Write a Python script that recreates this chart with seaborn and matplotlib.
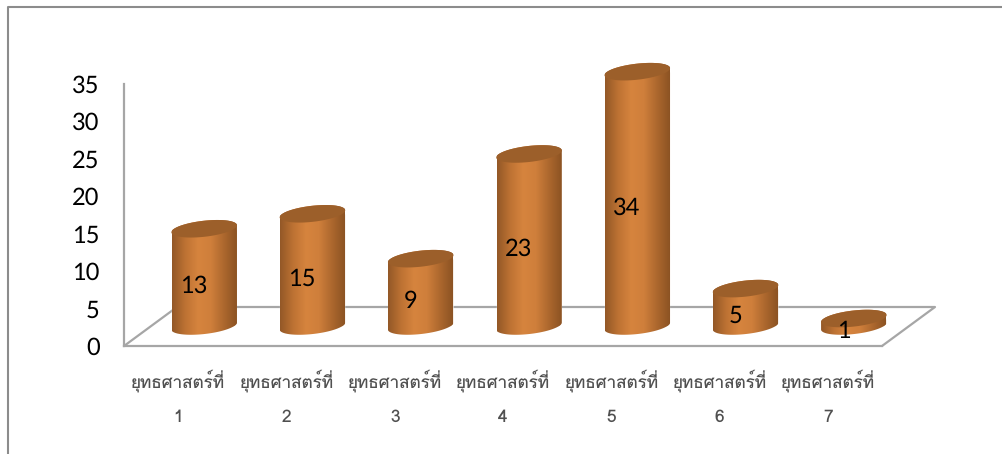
import numpy as np
import matplotlib
matplotlib.use("Agg")
import matplotlib.pyplot as plt
import seaborn as sns
from matplotlib.colors import LinearSegmentedColormap
from matplotlib.patches import Polygon
from matplotlib.transforms import IdentityTransform

categories = ["ยุทธศาสตร์ที่\n\n1", "ยุทธศาสตร์ที่\n\n2", "ยุทธศาสตร์ที่\n\n3", "ยุทธศาสตร์ที่\n\n4",
              "ยุทธศาสตร์ที่\n\n5", "ยุทธศาสตร์ที่\n\n6", "ยุทธศาสตร์ที่\n\n7"]
values = [13, 15, 9, 23, 34, 5, 1]
y_ticks = [0, 5, 10, 15, 20, 25, 30, 35]

W, H = 1003, 454
GREY = "#a6a6a6"
BASE_Y = 326
PX_PER_UNIT = 7.48
BAR_PAD = 4  # value units of spare room around the bars, for the ellipses


def px_axes(fig, left, right, top, bottom):
    # axes placed by pixel edges of the picture (y counted from the top)
    return fig.add_axes([left / W, 1 - bottom / H, (right - left) / W, (bottom - top) / H])


def ellipse_points(cx, cy, start, stop, a=33, b=8, tilt=6.5):
    t = np.radians(np.linspace(start, stop, 60))
    r = np.radians(tilt)
    x = a * np.cos(t) * np.cos(r) - b * np.sin(t) * np.sin(r)
    y = a * np.cos(t) * np.sin(r) + b * np.sin(t) * np.cos(r)
    return np.column_stack([cx + x, cy + y])


sns.set_theme(style="white")
plt.rcParams["font.family"] = ["Lato", "DejaVu Sans"]
plt.rcParams["text.hinting"] = "no_hinting"

fig = plt.figure(figsize=(W / 100, H / 100), dpi=100)

# page frame and floor, in picture pixels
bg = fig.add_axes([0, 0, 1, 1])
bg.set_xlim(0, W)
bg.set_ylim(H, 0)
bg.axis("off")
bg.plot([8, 8, W], [H, 7, 7], color="#8c8c8c", lw=1.5)
bg.plot([124, 177, 935, 882], [346, 307, 307, 346], color=GREY, lw=1.6)

# front plane: carries the value axis and the category labels
ax = px_axes(fig, 124, 882, 84, 346)
ax.patch.set_alpha(0)
ax.set_xlim(-0.5, 6.5)
ax.set_ylim(0, 35)
ax.set_yticks(y_ticks)
ax.set_xticks(range(len(categories)))
ax.set_xticklabels(categories, fontsize=12.3, color="#505050", linespacing=1.08,
                   family=["Loma", "Krub", "DejaVu Sans"])
ax.tick_params(axis="y", length=0, pad=17.5, labelsize=17, labelcolor="black")
ax.tick_params(axis="x", length=0, pad=16.5)
sns.despine(ax=ax, top=True, right=True)
for side in ("left", "bottom"):
    ax.spines[side].set_color(GREY)
    ax.spines[side].set_linewidth(1.6)

# bars stand further back, so their axes is shifted along the floor
bar_ax = px_axes(fig, 150, 908, BASE_Y - (35 + BAR_PAD) * PX_PER_UNIT, BASE_Y + BAR_PAD * PX_PER_UNIT)
bar_ax.patch.set_alpha(0)
sns.barplot(x=list(range(len(values))), y=values, color="#c97a38", width=0.6, ax=bar_ax, zorder=2)
bar_ax.set_xlim(-0.5, 6.5)
bar_ax.set_ylim(-BAR_PAD, 35 + BAR_PAD)
bar_ax.axis("off")
fig.canvas.draw()

gradient = LinearSegmentedColormap.from_list(
    "cyl", ["#935827", "#bd7233", "#d6843e", "#cf7f3b", "#ad682e", "#8c5323"]
)
shade = np.linspace(0, 1, 128).reshape(1, -1)

for bar, val in zip(bar_ax.patches, values):
    x0, y0 = bar_ax.transData.transform((bar.get_x(), 0))
    x1, y1 = bar_ax.transData.transform((bar.get_x() + bar.get_width(), val))
    cx = (x0 + x1) / 2
    # y grows upwards in display space, so 180..360 is the lower edge
    body = np.vstack([ellipse_points(cx, y0, 180, 360), ellipse_points(cx, y1, 0, 180)])
    clip = Polygon(body, transform=IdentityTransform())
    bar.set_clip_path(clip)
    img = bar_ax.imshow(shade, cmap=gradient, aspect="auto", zorder=3,
                        extent=(bar.get_x(), bar.get_x() + bar.get_width(), -3, val + 3))
    img.set_clip_path(clip)
    bar_ax.add_patch(Polygon(ellipse_points(cx, y1, 0, 360), transform=IdentityTransform(),
                             facecolor="#9c5f2a", edgecolor="none", zorder=4))
    bar_ax.annotate(str(val), xy=(bar.get_x() + bar.get_width() / 2, val / 2), xytext=(-7.5, -6.5),
                    textcoords="offset points", ha="center", va="center", fontsize=17,
                    color="black", zorder=5, annotation_clip=False)
bar_ax.set_xlim(-0.5, 6.5)
bar_ax.set_ylim(-BAR_PAD, 35 + BAR_PAD)

fig.savefig("out.png", dpi=100)
